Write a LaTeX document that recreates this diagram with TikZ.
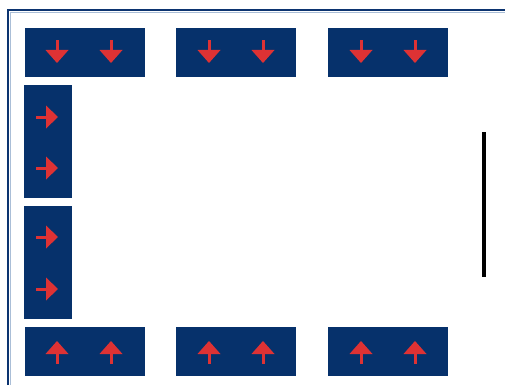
\documentclass[tikz,border=0pt]{standalone}
\definecolor{navy}{RGB}{6,49,107}
\definecolor{framec}{RGB}{12,52,112}
\definecolor{lightf}{RGB}{170,190,215}
\definecolor{redarr}{RGB}{222,50,52}
\tikzset{
  panel/.style={fill=navy, draw=none, inner sep=0pt, outer sep=0pt},
  arr/.style={fill=redarr, draw=none}
}
\newcommand{\arrdown}[2]{%
  \fill[arr] (#1-1.5,#2-12) rectangle (#1+1.5,#2-1);
  \fill[arr] (#1-11.5,#2-2) -- (#1+11.5,#2-2) -- (#1,#2+11) -- cycle;}
\newcommand{\arrup}[2]{%
  \fill[arr] (#1-1.5,#2+12) rectangle (#1+1.5,#2+1);
  \fill[arr] (#1-11.5,#2+2) -- (#1+11.5,#2+2) -- (#1,#2-11) -- cycle;}
\newcommand{\arrright}[2]{%
  \fill[arr] (#1-11,#2-1.5) rectangle (#1+1,#2+1.5);
  \fill[arr] (#1-1,#2-11.5) -- (#1-1,#2+11.5) -- (#1+11,#2) -- cycle;}
\begin{document}
\begin{tikzpicture}[x=1pt,y=-1pt]
\useasboundingbox (0,0) rectangle (505,385);
\fill[white] (0,0) rectangle (505,385);
% frame
\draw[lightf, line width=1pt] (10.5,385) -- (10.5,12.5) -- (505,12.5);
\draw[framec, line width=2pt] (8,385) -- (8,10) -- (505,10);
% top panels
\node[panel, minimum width=120pt, minimum height=49pt] (t1) at (85,52.5) {};
\node[panel, minimum width=120pt, minimum height=49pt] (t2) at (236,52.5) {};
\node[panel, minimum width=120pt, minimum height=49pt] (t3) at (388,52.5) {};
% bottom panels
\node[panel, minimum width=120pt, minimum height=49pt] (b1) at (85,351.5) {};
\node[panel, minimum width=120pt, minimum height=49pt] (b2) at (236,351.5) {};
\node[panel, minimum width=120pt, minimum height=49pt] (b3) at (388,351.5) {};
% left panels
\node[panel, minimum width=48pt, minimum height=113pt] (l1) at (48,141.5) {};
\node[panel, minimum width=48pt, minimum height=113pt] (l2) at (48,262.5) {};
% arrows
\arrdown{57}{52}\arrdown{111}{52}
\arrdown{209}{52}\arrdown{263}{52}
\arrdown{361}{52}\arrdown{415}{52}
\arrup{57}{352}\arrup{111}{352}
\arrup{209}{352}\arrup{263}{352}
\arrup{361}{352}\arrup{415}{352}
\arrright{47}{117}\arrright{47}{168}
\arrright{47}{237}\arrright{47}{289}
% black bar
\coordinate (bt) at (484,132);
\coordinate (bb) at (484,277);
\draw[black, line width=4pt] (bt) -- (bb);
\end{tikzpicture}
\end{document}
